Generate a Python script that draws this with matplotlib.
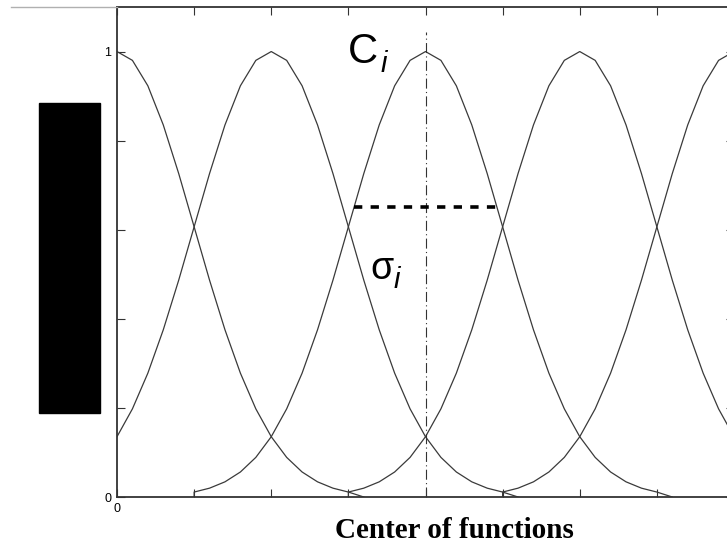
import numpy as np
import matplotlib
matplotlib.use('Agg')
import matplotlib.pyplot as plt
from matplotlib.patches import Rectangle
from matplotlib.lines import Line2D

# Gaussian membership functions: centers and common width
centers = [0, 2, 4, 6, 8]
sigma = 1.0
support = 3.0      # each function is drawn on [c - 3, c + 3]
step = 0.2
highlight_center = 4
width_level = 0.65
yticks = [0, 0.2, 0.4, 0.6, 0.8, 1.0]
ytick_labels = ['0', '', '', '', '', '1']
xticks = [0, 1, 2, 3, 4, 5, 6, 7, 8]
xtick_labels = ['0', '', '', '', '', '', '', '', '']

fig = plt.figure(figsize=(7.27, 5.45), dpi=100)
ax = fig.add_axes([117 / 727, 48 / 545, 617 / 727, 490 / 545])

line_col = '#3a3a3a'
for c in centers:
    xs = np.arange(c - support, c + support + 1e-9, step)
    ys = np.exp(-(xs - c) ** 2 / (2 * sigma ** 2))
    # zero padding at both ends of the support
    xs = np.concatenate([[c - support], xs, [c + support + step]])
    ys = np.concatenate([[0], ys, [0]])
    ax.plot(xs, ys, color=line_col, lw=0.9)

# center marker and width marker of the highlighted function
ax.plot([highlight_center, highlight_center], [0, 1.045], color='#333333',
        lw=0.8, linestyle=(0, (9, 3, 1, 3)))
half = sigma * np.sqrt(-2 * np.log(width_level))
ax.plot([highlight_center - half, highlight_center + half], [width_level, width_level],
        color='black', lw=2.6, dashes=(2.3, 2.3))

ax.set_xlim(0, 8)
ax.set_ylim(0, 1.1)
ax.set_yticks(yticks)
ax.set_yticklabels(ytick_labels)
ax.set_xticks(xticks)
ax.set_xticklabels(xtick_labels)
ax.tick_params(direction='in', length=6, width=0.8, colors='#333333',
               top=True, right=True, labelsize=9, pad=4)
for lab in ax.get_xticklabels() + ax.get_yticklabels():
    lab.set_fontfamily('Liberation Sans')
    lab.set_color('black')
for s in ax.spines.values():
    s.set_color('#333333')
    s.set_linewidth(1.3)

# annotations
ax.text(3.0, 0.975, 'C', fontsize=30, family='Liberation Sans', va='baseline', ha='left')
ax.text(3.42, 0.955, 'i', fontsize=21, family='Liberation Sans', style='italic',
        va='baseline', ha='left')
ax.text(3.28, 0.49, 'σ', fontsize=27, family='Liberation Sans', va='baseline', ha='left')
ax.text(3.59, 0.47, 'i', fontsize=21, family='Liberation Sans', style='italic',
        va='baseline', ha='left')

fig.text(454 / 727, 7 / 545, 'Center of functions', fontsize=21, fontweight='bold',
         family='Liberation Serif', ha='center', va='baseline')

# hidden y-axis label box
fig.patches.append(Rectangle((39 / 727, 132 / 545), 61 / 727, 310 / 545,
                             transform=fig.transFigure, color='black', zorder=5))
fig.lines.append(Line2D([11 / 727, 117 / 727], [538 / 545, 538 / 545],
                        transform=fig.transFigure, color='#b0b0b0', lw=1))

fig.savefig('out.png', dpi=100)
